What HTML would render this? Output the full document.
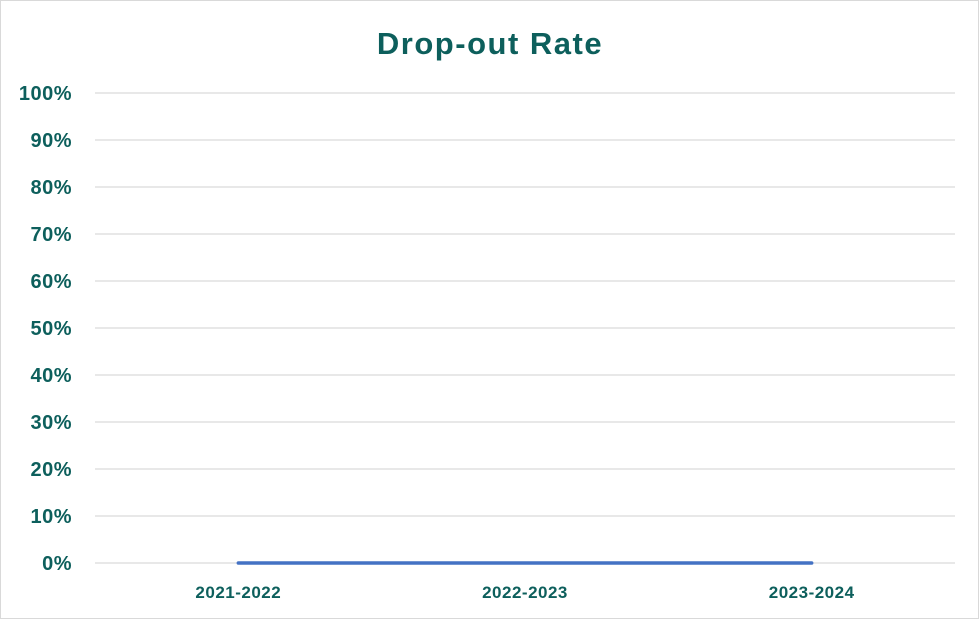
<!DOCTYPE html>
<html><head><meta charset="utf-8"><style>
body{margin:0;background:#fff}
svg text{font-family:"Liberation Sans",sans-serif;font-weight:bold;fill:#0d5f5c}
</style></head><body>
<svg width="979" height="619" xmlns="http://www.w3.org/2000/svg">
<rect x="0.5" y="0.5" width="978" height="618" fill="#fff" stroke="#d9d9d9"/>
<text x="490" y="54" text-anchor="middle" font-size="31" letter-spacing="1.5">Drop-out Rate</text>
<g id="grid"></g>
<g id="yt"></g>
<g id="xt"></g>
<g id="series"></g>
</svg>
<script>
const categories=["2021-2022","2022-2023","2023-2024"];
const values=[0,0,0];
const yTicks=[0,10,20,30,40,50,60,70,80,90,100];
const ns="http://www.w3.org/2000/svg";
const x0=95,x1=955,y0=563,y1=93;
const bw=(x1-x0)/categories.length;
const xs=i=>x0+bw*(i+0.5);
const ys=v=>y0-(v/100)*(y0-y1);
const grid=document.getElementById('grid'),yt=document.getElementById('yt'),xt=document.getElementById('xt'),se=document.getElementById('series');
yTicks.forEach(t=>{
 const l=document.createElementNS(ns,'line');
 
 
 l.setAttribute('x1',x0);l.setAttribute('x2',x1);l.setAttribute('y1',ys(t));l.setAttribute('y2',ys(t));
 l.setAttribute('stroke','#d0d0d0');l.setAttribute('stroke-width','1');
 grid.appendChild(l);
 const tx=document.createElementNS(ns,'text');
 
 
 tx.setAttribute('x',72);tx.setAttribute('y',ys(t)+7);tx.setAttribute('text-anchor','end');tx.setAttribute('font-size','20');tx.setAttribute('letter-spacing','0.5');
 tx.textContent=t+'%';yt.appendChild(tx);
});
categories.forEach((c,i)=>{
 const tx=document.createElementNS(ns,'text');
 
 
 tx.setAttribute('x',xs(i));tx.setAttribute('y',598);tx.setAttribute('text-anchor','middle');tx.setAttribute('font-size','17');tx.setAttribute('letter-spacing','0.5');
 tx.textContent=c;xt.appendChild(tx);
});
const p=document.createElementNS(ns,'polyline');


p.setAttribute('points',values.map((v,i)=>xs(i)+','+ys(v)).join(' '));
p.setAttribute('fill','none');p.setAttribute('stroke','#4472c4');p.setAttribute('stroke-width','3.5');p.setAttribute('stroke-linecap','round');
se.appendChild(p);
</script>
</body></html>
